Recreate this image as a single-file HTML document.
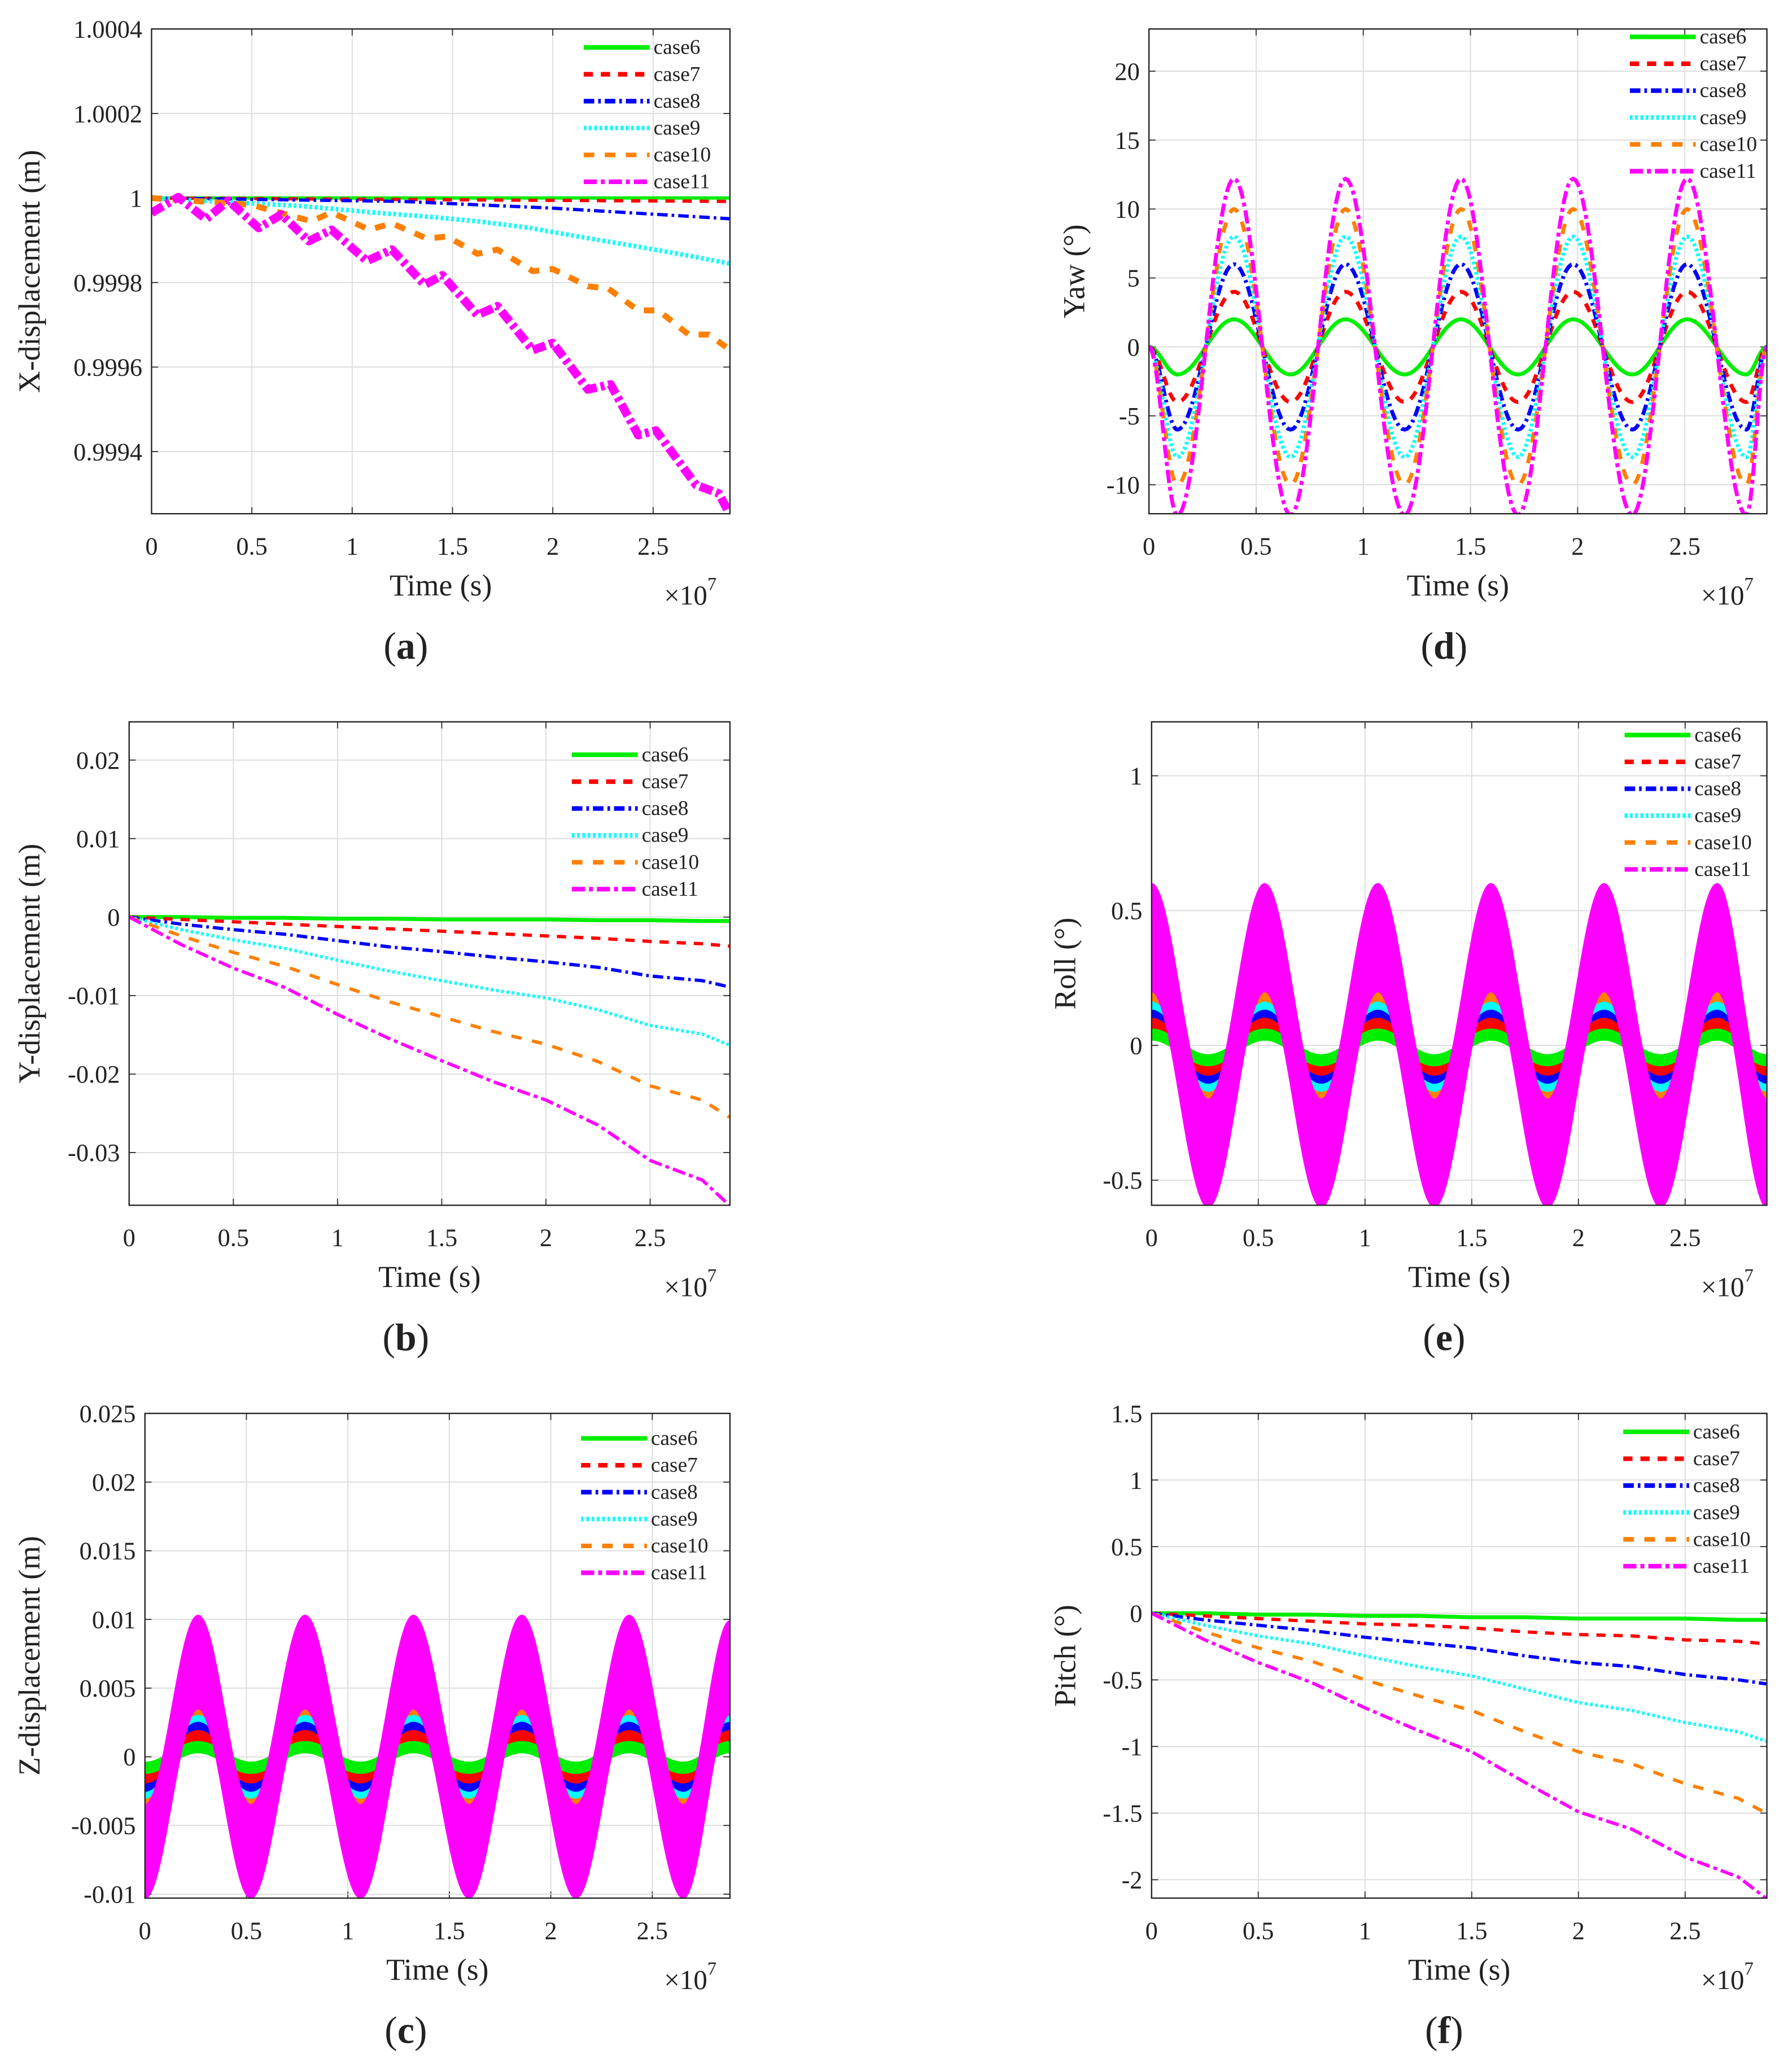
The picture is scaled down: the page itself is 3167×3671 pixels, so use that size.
<!DOCTYPE html>
<html><head><meta charset="utf-8">
<style>
html,body{margin:0;padding:0;background:#fff;}
svg{display:block;}
text{font-family:"Liberation Serif","DejaVu Serif",serif;fill:#222;}
</style></head>
<body>
<svg id="fig" xmlns="http://www.w3.org/2000/svg" width="3167" height="3671" viewBox="0 0 1357 1573"></svg>
<script>
// ---------- shared axis data ----------
const xTickVals=[0,0.5,1,1.5,2,2.5];
const xTickLabels=["0","0.5","1","1.5","2","2.5"];
const caseNames=["case6","case7","case8","case9","case10","case11"];

// ---------- panel (a) X-displacement ----------
const aYTicks=[1.0004,1.0002,1,0.9998,0.9996,0.9994];
const aYLabels=["1.0004","1.0002","1","0.9998","0.9996","0.9994"];
const aT6=[0,2.882], aV6=[1.0,1.0];
const aT7=[0,2.882], aV7=[1.0,0.999992];
const aT8=[0,1.248,2.0,2.882], aV8=[1.0,0.999992,0.999976,0.999951];
const aT9=[0,0.747,1.098,1.373,1.624,1.875,2.125,2.376,2.627,2.882];
const aV9=[1.0,0.999981,0.999966,0.999956,0.999945,0.99993,0.999909,0.999889,0.999868,0.999845];
const aT10=[0,0.496,0.797,0.897,1.085,1.198,1.373,1.474,1.624,1.724,1.9,2.0,2.175,2.276,2.426,2.526,2.677,2.777,2.882];
const aV10=[1.0,0.999984,0.999945,0.999966,0.999925,0.99994,0.999904,0.999909,0.999868,0.999878,0.999827,0.999832,0.999791,0.999786,0.999734,0.999734,0.999677,0.999677,0.999641];
const aT11=[0,0.133,0.271,0.383,0.534,0.647,0.784,0.897,1.073,1.198,1.361,1.449,1.624,1.724,1.9,2.0,2.175,2.288,2.426,2.514,2.714,2.827,2.882];
const aV11=[0.999965,1.000002,0.99995,0.999994,0.999929,0.999961,0.999898,0.999925,0.999851,0.999878,0.999795,0.999817,0.999723,0.999744,0.99964,0.999657,0.999547,0.999559,0.999439,0.99945,0.999321,0.999301,0.999252];

// ---------- panel (b) Y-displacement ----------
const bYTicks=[0.02,0.01,0,-0.01,-0.02,-0.03];
const bYLabels=["0.02","0.01","0","-0.01","-0.02","-0.03"];
const bT=[0,0.25,0.5,0.75,1,1.25,1.5,1.75,2,2.25,2.5,2.75,2.88];
const bV6=[0,0,-0.0001,-0.0001,-0.0002,-0.0002,-0.0003,-0.0003,-0.0003,-0.0004,-0.0004,-0.0005,-0.0005];
const bV7=[0,-0.0003,-0.0006,-0.0009,-0.0012,-0.0015,-0.0018,-0.0021,-0.0024,-0.0027,-0.0031,-0.0034,-0.0037];
const bV8=[0,-0.0009,-0.0016,-0.0022,-0.003,-0.0038,-0.0044,-0.0051,-0.0057,-0.0064,-0.0075,-0.0081,-0.0089];
const bV9=[0,-0.0016,-0.0029,-0.004,-0.0055,-0.0069,-0.0081,-0.0093,-0.0103,-0.0118,-0.0138,-0.0149,-0.0163];
const bV10=[0,-0.0024,-0.0045,-0.0063,-0.0086,-0.0108,-0.0127,-0.0146,-0.0162,-0.0184,-0.0215,-0.0233,-0.0255];
const bV11=[0,-0.0035,-0.0065,-0.009,-0.0124,-0.0155,-0.0183,-0.021,-0.0233,-0.0265,-0.031,-0.0335,-0.0367];

// ---------- panel (c) Z-displacement (extrema, band centres) ----------
const cYTicks=[0.025,0.02,0.015,0.01,0.005,0,-0.005,-0.01];
const cYLabels=["0.025","0.02","0.015","0.01","0.005","0","-0.005","-0.01"];
const cT=[0,0.262,0.522,0.789,1.063,1.323,1.597,1.857,2.124,2.386,2.653,2.883];
const cV6=[-0.0008,0.0007,-0.0008,0.0007,-0.0008,0.0007,-0.0008,0.0007,-0.0008,0.0007,-0.0008,0.0007];
const cV7=[-0.0014,0.0014,-0.0014,0.0014,-0.0014,0.0014,-0.0014,0.0014,-0.0014,0.0014,-0.0014,0.0014];
const cV8=[-0.002,0.002,-0.002,0.002,-0.002,0.002,-0.002,0.002,-0.002,0.002,-0.002,0.002];
const cV9=[-0.0025,0.0025,-0.0025,0.0025,-0.0025,0.0025,-0.0025,0.0025,-0.0025,0.0025,-0.0025,0.0025];
const cV10=[-0.003,0.003,-0.003,0.003,-0.003,0.003,-0.003,0.003,-0.003,0.003,-0.003,0.003];
const cV11=[-0.0069,0.0069,-0.0069,0.0069,-0.0069,0.0069,-0.0069,0.0069,-0.0069,0.0069,-0.0069,0.0065];
const cHalf=[0.0004,0.0005,0.0005,0.0005,0.0005,0.0034];

// ---------- panel (d) Yaw ----------
const dYTicks=[20,15,10,5,0,-5,-10];
const dYLabels=["20","15","10","5","0","-5","-10"];
const dT=[0,0.133,0.397,0.661,0.917,1.193,1.456,1.722,1.979,2.255,2.511,2.787,2.883];
const dV6=[0,-2,2,-2,2,-2,2,-2,2,-2,2,-2,0];
const dV7=[0,-4,4,-4,4,-4,4,-4,4,-4,4,-4,0];
const dV8=[0,-6,6,-6,6,-6,6,-6,6,-6,6,-6,0];
const dV9=[0,-8,8,-8,8,-8,8,-8,8,-8,8,-8,0];
const dV10=[0,-10,10,-10,10,-10,10,-10,10,-10,10,-10,0];
const dV11=[0,-12.2,12.2,-12.2,12.2,-12.2,12.2,-12.2,12.2,-12.2,12.2,-12.2,0];

// ---------- panel (e) Roll ----------
const eYTicks=[1,0.5,0,-0.5];
const eYLabels=["1","0.5","0","-0.5"];
const eT=[0,0.265,0.53,0.795,1.06,1.325,1.59,1.855,2.12,2.385,2.65,2.883];
const eV6=[0.04,-0.055,0.04,-0.055,0.04,-0.055,0.04,-0.055,0.04,-0.055,0.04,-0.055];
const eV7=[0.075,-0.085,0.075,-0.085,0.075,-0.085,0.075,-0.085,0.075,-0.085,0.075,-0.085];
const eV8=[0.105,-0.115,0.105,-0.115,0.105,-0.115,0.105,-0.115,0.105,-0.115,0.105,-0.115];
const eV9=[0.135,-0.145,0.135,-0.145,0.135,-0.145,0.135,-0.145,0.135,-0.145,0.135,-0.145];
const eV10=[0.175,-0.175,0.175,-0.175,0.175,-0.175,0.175,-0.175,0.175,-0.175,0.175,-0.175];
const eV11=[0.4,-0.4,0.4,-0.4,0.4,-0.4,0.4,-0.4,0.4,-0.4,0.4,-0.4];
const eHalf=[0.02,0.025,0.025,0.025,0.025,0.2];

// ---------- panel (f) Pitch ----------
const fYTicks=[1.5,1,0.5,0,-0.5,-1,-1.5,-2];
const fYLabels=["1.5","1","0.5","0","-0.5","-1","-1.5","-2"];
const fT=[0,0.25,0.5,0.75,1,1.25,1.5,1.75,2,2.25,2.5,2.75,2.88];
const fV6=[0,0,-0.01,-0.01,-0.02,-0.02,-0.03,-0.03,-0.04,-0.04,-0.04,-0.05,-0.05];
const fV7=[0,-0.02,-0.04,-0.06,-0.08,-0.09,-0.11,-0.14,-0.16,-0.17,-0.2,-0.21,-0.23];
const fV8=[0,-0.05,-0.09,-0.13,-0.18,-0.22,-0.26,-0.32,-0.37,-0.4,-0.46,-0.5,-0.53];
const fV9=[0,-0.09,-0.17,-0.23,-0.32,-0.4,-0.47,-0.57,-0.67,-0.73,-0.82,-0.89,-0.96];
const fV10=[0,-0.14,-0.26,-0.36,-0.5,-0.62,-0.73,-0.89,-1.04,-1.13,-1.28,-1.39,-1.5];
const fV11=[0,-0.2,-0.37,-0.52,-0.71,-0.88,-1.04,-1.27,-1.49,-1.62,-1.83,-1.98,-2.14];

// ---------- styles ----------
const colors=["#00ee00","#ff0000","#0000ff","#00ffff","#ff8000","#ff00ff"];
const dashes=["none","7,6","8,3,2,3","2,2","8,8","10,3,3,3"];

const NS="http://www.w3.org/2000/svg";
const svg=document.getElementById("fig");
function mk(parent,tag,attrs,txt){
  const e=document.createElementNS(NS,tag);
  for(const k in attrs) e.setAttribute(k,attrs[k]);
  if(txt!==undefined) e.textContent=txt;
  parent.appendChild(e);
  return e;
}
function ease(ts,vs){
  const X=[],Y=[];
  for(let i=0;i<ts.length-1;i++){
    for(let s=0;s<24;s++){
      const u=s/24;
      X.push(ts[i]+(ts[i+1]-ts[i])*u);
      Y.push(vs[i]+(vs[i+1]-vs[i])*(1-Math.cos(Math.PI*u))/2);
    }
  }
  X.push(ts[ts.length-1]);Y.push(vs[vs.length-1]);
  return [X,Y];
}

const panels=[
 {id:"a",L:115,R:554,T:22,B:390,ymin:0.999253,ymax:1.0004,yt:aYTicks,yl:aYLabels,ylab:"X-displacement (m)",ylx:22,legX:443,legY:36,plx:308,
  kind:"line",series:[[aT6,aV6],[aT7,aV7],[aT8,aV8],[aT9,aV9],[aT10,aV10],[aT11,aV11]],widths:[2.5,2.5,2.5,3.5,4.5,6.5]},
 {id:"d",L:872,R:1341,T:22,B:390,ymin:-12.1,ymax:23.06,yt:dYTicks,yl:dYLabels,ylab:"Yaw (°)",ylx:815,legX:1237,legY:28,plx:1096,
  kind:"ease",series:[[dT,dV6],[dT,dV7],[dT,dV8],[dT,dV9],[dT,dV10],[dT,dV11]],widths:[3,3,3,3,3,3]},
 {id:"b",L:98,R:554,T:548,B:915,ymin:-0.03671,ymax:0.02487,yt:bYTicks,yl:bYLabels,ylab:"Y-displacement (m)",ylx:22,legX:434,legY:573,plx:308,
  kind:"line",series:[[bT,bV6],[bT,bV7],[bT,bV8],[bT,bV9],[bT,bV10],[bT,bV11]],widths:[3,2.5,2.5,2.5,2.5,2.5]},
 {id:"e",L:874,R:1341,T:548,B:915,ymin:-0.593,ymax:1.2,yt:eYTicks,yl:eYLabels,ylab:"Roll (°)",ylx:808,legX:1233,legY:558,plx:1096,
  kind:"band",half:eHalf,series:[[eT,eV6],[eT,eV7],[eT,eV8],[eT,eV9],[eT,eV10],[eT,eV11]]},
 {id:"c",L:110,R:554,T:1073,B:1441,ymin:-0.01029,ymax:0.025,yt:cYTicks,yl:cYLabels,ylab:"Z-displacement (m)",ylx:22,legX:441,legY:1092,plx:308,
  kind:"band",half:cHalf,series:[[cT,cV6],[cT,cV7],[cT,cV8],[cT,cV9],[cT,cV10],[cT,cV11]]},
 {id:"f",L:874,R:1341,T:1073,B:1441,ymin:-2.138,ymax:1.5,yt:fYTicks,yl:fYLabels,ylab:"Pitch (°)",ylx:808,legX:1232,legY:1087,plx:1096,
  kind:"line",series:[[fT,fV6],[fT,fV7],[fT,fV8],[fT,fV9],[fT,fV10],[fT,fV11]],widths:[3,2.5,2.5,2.5,2.5,2.5]}
];
const XMAX=2.883;

panels.forEach(p=>{
  const g=mk(svg,"g",{});
  
  
  const sx=t=>p.L+(t/XMAX)*(p.R-p.L);
  const sy=v=>p.B-(v-p.ymin)/(p.ymax-p.ymin)*(p.B-p.T);
  const cp=mk(g,"clipPath",{id:"clip-"+p.id});
  mk(cp,"rect",{x:p.L,y:p.T,width:p.R-p.L,height:p.B-p.T});
  xTickVals.forEach((t,i)=>{
    const x=sx(t);
    if(i>0){
      const gl=mk(g,"line",{x1:x,x2:x,y1:p.T,y2:p.B,stroke:"#dcdcdc","stroke-width":0.8});
      
      
    }
    mk(g,"line",{x1:x,x2:x,y1:p.B,y2:p.B-5,stroke:"#333","stroke-width":0.8});
    mk(g,"line",{x1:x,x2:x,y1:p.T,y2:p.T+5,stroke:"#333","stroke-width":0.8});
    const tl=mk(g,"text",{x:x,y:p.B+31,"font-size":19,"text-anchor":"middle"},xTickLabels[i]);
    
    
  });
  p.yt.forEach((v,i)=>{
    const y=sy(v);
    if(Math.abs(y-p.T)>1){
      const gl=mk(g,"line",{x1:p.L,x2:p.R,y1:y,y2:y,stroke:"#dcdcdc","stroke-width":0.8});
      
      
    }
    mk(g,"line",{x1:p.L,x2:p.L+5,y1:y,y2:y,stroke:"#333","stroke-width":0.8});
    mk(g,"line",{x1:p.R,x2:p.R-5,y1:y,y2:y,stroke:"#333","stroke-width":0.8});
    const tl=mk(g,"text",{x:p.L-7,y:y+6.5,"font-size":19,"text-anchor":"end"},p.yl[i]);
    
    
  });
  const sg=mk(g,"g",{"clip-path":"url(#clip-"+p.id+")"});
  
  
  if(p.kind==="band"){
    [4,3,2,1,0,5].forEach(k=>{
      const [ts,vs]=p.series[k];
      const h=p.half[k];
      const up=ease(ts,vs.map(v=>v+h)), lo=ease(ts,vs.map(v=>v-h));
      let pts=[];
      for(let i=0;i<up[0].length;i++) pts.push(sx(up[0][i]).toFixed(2)+","+sy(up[1][i]).toFixed(2));
      for(let i=lo[0].length-1;i>=0;i--) pts.push(sx(lo[0][i]).toFixed(2)+","+sy(lo[1][i]).toFixed(2));
      const poly=mk(sg,"polygon",{points:pts.join(" "),fill:colors[k],stroke:colors[k],"stroke-width":1});
      
      
    });
  } else {
    [0,1,2,3,4,5].forEach(k=>{
      let [ts,vs]=p.series[k];
      if(p.kind==="ease"){ const r=ease(ts,vs); ts=r[0]; vs=r[1]; }
      const pts=ts.map((t,i)=>sx(t).toFixed(2)+","+sy(vs[i]).toFixed(2)).join(" ");
      const pl=mk(sg,"polyline",{points:pts,fill:"none",stroke:colors[k],"stroke-width":p.widths[k],"stroke-dasharray":dashes[k],"stroke-linejoin":"round"});
      
      
    });
  }
  const box=mk(g,"rect",{x:p.L,y:p.T,width:p.R-p.L,height:p.B-p.T,fill:"none",stroke:"#222","stroke-width":1});
  
  
  const lg=mk(g,"g",{});
  
  
  caseNames.forEach((n,k)=>{
    const y=p.legY+k*20.4;
    const ll=mk(lg,"line",{x1:p.legX,x2:p.legX+50,y1:y,y2:y,stroke:colors[k],"stroke-width":3.5,"stroke-dasharray":dashes[k]});
    
    
    const lt=mk(lg,"text",{x:p.legX+53,y:y+5,"font-size":16},n);
    
    
  });
  const yl=mk(g,"text",{x:0,y:0,"font-size":23,"text-anchor":"middle",transform:"translate("+(p.ylx+8)+","+((p.T+p.B)/2)+") rotate(-90)"},p.ylab);
  
  
  const xl=mk(g,"text",{x:(p.L+p.R)/2,y:p.B+62,"font-size":23,"text-anchor":"middle"},"Time (s)");
  
  
  const ex=mk(g,"text",{x:p.R-50,y:p.B+69,"font-size":21},"×10");
  
  
  mk(ex,"tspan",{dy:-11,"font-size":14},"7");
  const pl=mk(g,"text",{x:p.plx,y:p.B+110,"font-size":29,"text-anchor":"middle"});
  
  
  mk(pl,"tspan",{},"(");
  mk(pl,"tspan",{"font-weight":"bold"},p.id);
  mk(pl,"tspan",{},")");
});
</script>
</body></html>
